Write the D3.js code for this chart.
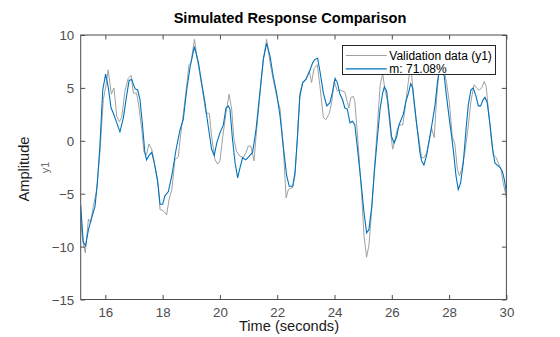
<!DOCTYPE html>
<html>
<head>
<meta charset="utf-8">
<script src="https://cdn.jsdelivr.net/npm/d3@7"></script>
<style>
  html, body { margin: 0; padding: 0; background: #ffffff; }
  svg { display: block; font-family: "Liberation Sans", Arial, Helvetica, sans-serif; }
</style>
</head>
<body>
<svg id="chart" width="560" height="337"></svg>
<script>
// ---- data ----
const chartTitle = "Simulated Response Comparison";
const xLabel = "Time (seconds)";
const yLabel = "Amplitude";
const channelLabel = "y1";
const legendLabels = ["Validation data (y1)", "m: 71.08%"];
const xTicks = [16, 18, 20, 22, 24, 26, 28, 30];
const yTicks = [-15, -10, -5, 0, 5, 10];
const xRange = [15.14, 30];
const yRange = [-15, 10];

const validationTime = [15.14,15.21,15.30,15.41,15.49,15.58,15.70,15.81,15.93,16.02,16.10,16.21,16.30,16.40,16.49,16.57,16.69,16.80,16.90,16.98,17.09,17.17,17.27,17.35,17.44,17.52,17.62,17.73,17.85,17.91,18.02,18.14,18.22,18.32,18.43,18.55,18.63,18.72,18.84,18.92,18.99,19.11,19.21,19.33,19.44,19.51,19.63,19.71,19.83,19.92,20.00,20.10,20.21,20.32,20.41,20.49,20.58,20.70,20.82,20.91,20.99,21.08,21.19,21.26,21.40,21.515,21.63,21.75,21.86,21.98,22.10,22.21,22.31,22.39,22.54,22.62,22.70,22.79,22.89,23.00,23.12,23.20,23.28,23.40,23.49,23.61,23.70,23.82,23.90,23.99,24.10,24.19,24.28,24.36,24.445,24.50,24.57,24.655,24.71,24.83,24.95,25.03,25.12,25.20,25.30,25.39,25.49,25.59,25.68,25.76,25.84,25.935,26.03,26.11,26.20,26.28,26.38,26.46,26.54,26.61,26.66,26.75,26.84,26.95,27.04,27.12,27.22,27.31,27.39,27.48,27.56,27.65,27.74,27.83,27.91,28.01,28.11,28.20,28.29,28.36,28.44,28.55,28.67,28.76,28.87,28.96,29.05,29.14,29.22,29.29,29.37,29.45,29.54,29.64,29.72,29.81,29.89,29.95,30.00];
const validationValues = [-7.4,-9.4,-10.6,-7.4,-7.7,-6.2,-4.6,-1.1,3.9,5.2,6.7,4.4,5.0,2.3,1.8,2.2,4.8,5.9,6.2,4.5,4.5,3.3,1.1,-1.1,-1.3,-0.3,-0.8,-2.4,-4.3,-6.5,-6.6,-7.0,-5.6,-4.6,-1.8,-1.5,0.6,2.5,5.2,7.2,7.4,9.6,7.7,5.8,3.9,2.6,2.6,0.4,-1.8,-2.2,-1.9,0.4,2.6,4.4,3.0,0.1,-1.0,-1.45,-1.6,-1.1,-0.5,-0.5,-1.9,0.4,4.5,7.7,9.6,7.4,5.8,4.2,3.0,-0.5,-5.4,-4.6,-4.4,-3.3,0.1,4.5,5.5,5.8,6.6,5.5,6.8,7.2,5.2,2.2,2.0,2.6,3.6,5.6,4.7,4.8,4.7,4.6,3.7,3.1,4.1,4.2,3.7,-0.5,-5.2,-9.0,-11.0,-9.9,-6.5,-2.7,1.07,5.2,6.4,4.8,3.9,1.4,-0.8,0.1,1.2,1.5,1.5,3.0,4.8,6.3,7.4,4.2,2.0,0.1,-1.6,-1.6,-1.1,0.1,1.2,0.3,3.9,6.7,6.9,6.6,5.5,3.6,0.4,-0.3,-2.7,-3.3,-2.7,-1.1,1.4,3.7,5.3,5.0,4.8,5.0,5.6,5.2,3.0,0.75,-1.3,-1.6,-2.1,-2.7,-4.0,-4.75,-5.4];

const modelTime = [15.14,15.23,15.31,15.41,15.52,15.64,15.72,15.81,15.91,16.01,16.10,16.20,16.28,16.40,16.51,16.63,16.74,16.83,16.92,17.04,17.13,17.21,17.30,17.38,17.44,17.52,17.62,17.71,17.82,17.91,18.00,18.08,18.20,18.32,18.47,18.61,18.72,18.84,18.96,19.11,19.25,19.36,19.48,19.59,19.71,19.80,19.89,20.00,20.12,20.21,20.29,20.35,20.44,20.53,20.62,20.70,20.79,20.90,21.01,21.14,21.26,21.40,21.515,21.63,21.75,21.86,21.98,22.10,22.21,22.33,22.42,22.54,22.62,22.70,22.79,22.89,23.00,23.12,23.24,23.32,23.41,23.49,23.61,23.73,23.84,23.92,24.02,24.10,24.19,24.28,24.36,24.445,24.54,24.63,24.71,24.83,24.95,25.03,25.12,25.20,25.30,25.39,25.49,25.59,25.68,25.74,25.82,25.90,25.99,26.08,26.17,26.25,26.40,26.49,26.58,26.66,26.73,26.81,26.89,26.98,27.04,27.12,27.22,27.31,27.41,27.51,27.59,27.66,27.74,27.83,27.91,28.01,28.09,28.17,28.24,28.32,28.40,28.495,28.59,28.67,28.76,28.84,28.94,29.02,29.10,29.19,29.25,29.33,29.43,29.52,29.60,29.68,29.775,29.86,29.93,30.00];
const modelValues = [-6.1,-9.6,-9.9,-8.4,-7.3,-6.2,-4.0,-0.5,4.8,6.3,5.1,3.1,2.6,1.7,0.85,2.2,4.2,5.7,5.8,4.9,4.8,3.9,1.4,-1.1,-1.8,-1.4,-1.1,-2.1,-3.7,-6.0,-6.0,-5.2,-4.8,-3.3,-0.8,1.07,2.0,4.8,7.0,8.9,7.4,5.5,3.6,1.4,-0.8,-1.4,-0.2,0.75,1.5,3.1,3.3,3.0,0.1,-2.1,-3.5,-2.55,-1.6,-1.8,-1.5,-1.1,1.07,4.7,7.7,9.2,8.0,6.1,4.5,2.3,-0.5,-3.3,-4.3,-4.3,-3.0,0.1,4.2,5.5,5.8,6.5,7.4,7.7,7.8,6.6,4.5,3.3,3.6,4.5,5.9,5.5,4.4,3.9,3.1,3.0,1.7,1.85,1.5,-1.45,-4.6,-6.8,-8.7,-8.4,-6.2,-3.0,0.1,3.0,4.5,5.1,4.7,2.8,0.4,-0.2,0.4,1.5,2.5,3.7,4.5,5.4,5.0,3.0,1.07,-1.1,-1.9,-2.3,-1.3,0.1,1.7,3.4,5.5,6.7,6.8,6.1,4.2,2.0,0.4,-1.45,-3.3,-4.6,-4.0,-2.1,1.07,3.4,4.8,5.0,4.2,3.3,3.3,3.9,4.1,3.6,1.5,-0.8,-2.1,-2.3,-2.5,-2.9,-3.7,-4.9];

// ---- layout ----
const W = 560, H = 337;
const plot = { left: 80.7, right: 506.4, top: 35, bottom: 299.5 };
const axisColor = "#4d4d4d";
const grayColor = "#a0a0a0";
const blueColor = "#0072bd";

const svg = d3.select("#chart");
const x = d3.scaleLinear().domain(xRange).range([plot.left, plot.right]);
const y = d3.scaleLinear().domain(yRange).range([plot.bottom, plot.top]);

// clip
svg.append("defs").append("clipPath").attr("id", "clip")
  .append("rect").attr("x", plot.left).attr("y", plot.top)
  .attr("width", plot.right - plot.left).attr("height", plot.bottom - plot.top);

const line = d3.line().x(d => x(d[0])).y(d => y(d[1]));
const gData = svg.append("g").attr("clip-path", "url(#clip)");
gData.append("path")
  .datum(validationTime.map((t, i) => [t, validationValues[i]]))
  .attr("d", line).attr("fill", "none").attr("stroke", grayColor).attr("stroke-width", 1);
gData.append("path")
  .datum(modelTime.map((t, i) => [t, modelValues[i]]))
  .attr("d", line).attr("fill", "none").attr("stroke", blueColor).attr("stroke-width", 1.1);

// axes
const tickLen = 4.5;
function styleAxis(g) {
  g.selectAll("path.domain").remove();
  g.selectAll("line").attr("stroke", axisColor);
  g.selectAll("text").attr("fill", axisColor).attr("font-size", "13.3px")
    .attr("font-family", "'Liberation Sans', Arial, sans-serif");
}
const xAxisB = svg.append("g").attr("transform", `translate(0,${plot.bottom})`)
  .call(d3.axisBottom(x).tickValues(xTicks).tickSizeInner(-tickLen).tickSizeOuter(0).tickPadding(13));
styleAxis(xAxisB);
xAxisB.selectAll("text").attr("dy", "0.71em").attr("y", 8);
const xAxisT = svg.append("g").attr("transform", `translate(0,${plot.top})`)
  .call(d3.axisTop(x).tickValues(xTicks).tickSizeInner(-tickLen).tickSizeOuter(0).tickFormat(""));
styleAxis(xAxisT);
const yAxisL = svg.append("g").attr("transform", `translate(${plot.left},0)`)
  .call(d3.axisLeft(y).tickValues(yTicks).tickSizeInner(-tickLen).tickSizeOuter(0).tickFormat(d3.format("d")));
styleAxis(yAxisL);
yAxisL.selectAll("text").attr("x", -6.5).attr("dy", "0.36em");
const yAxisR = svg.append("g").attr("transform", `translate(${plot.right},0)`)
  .call(d3.axisRight(y).tickValues(yTicks).tickSizeInner(-tickLen).tickSizeOuter(0).tickFormat(""));
styleAxis(yAxisR);

// box
svg.append("rect").attr("x", plot.left).attr("y", plot.top)
  .attr("width", plot.right - plot.left).attr("height", plot.bottom - plot.top)
  .attr("fill", "none").attr("stroke", axisColor).attr("stroke-width", 1);

// titles
svg.append("text").attr("x", 290).attr("y", 22.7).attr("text-anchor", "middle")
  .attr("font-size", "14.6px").attr("font-weight", "bold").attr("fill", "#000")
  .text(chartTitle);
svg.append("text").attr("x", 289).attr("y", 330.5).attr("text-anchor", "middle")
  .attr("font-size", "14.6px").attr("fill", "#1a1a1a").text(xLabel);
svg.append("text").attr("transform", "translate(29,169) rotate(-90)").attr("text-anchor", "middle")
  .attr("font-size", "14.6px").attr("fill", "#1a1a1a").text(yLabel);
svg.append("text").attr("transform", "translate(49,167.5) rotate(-90)").attr("text-anchor", "middle")
  .attr("font-size", "11px").attr("fill", "#6e6e6e").text(channelLabel);

// legend
const leg = svg.append("g");
leg.append("rect").attr("x", 342.5).attr("y", 45.5).attr("width", 153).attr("height", 29)
  .attr("fill", "#fff").attr("stroke", "#262626").attr("stroke-width", 1);
const legColors = [grayColor, blueColor];
legendLabels.forEach((lab, i) => {
  const yy = 55.5 + i * 13.4;
  leg.append("line").attr("x1", 345.7).attr("x2", 386.7).attr("y1", yy).attr("y2", yy)
    .attr("stroke", legColors[i]).attr("stroke-width", i === 1 ? 1.1 : 1);
  leg.append("text").attr("x", 389.3).attr("y", yy).attr("dy", "0.36em")
    .attr("font-size", "12px").attr("fill", "#000").text(lab);
});
</script>
</body>
</html>
